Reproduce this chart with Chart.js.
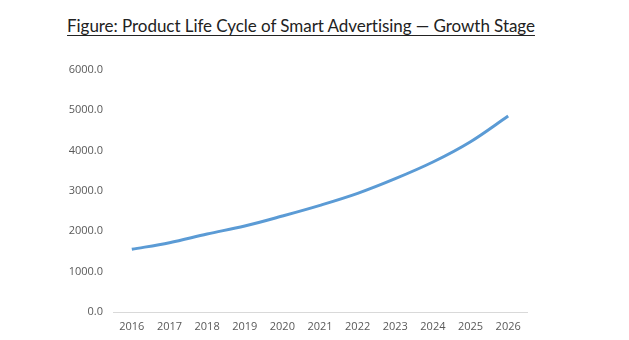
<!DOCTYPE html>
<html>
<head>
<meta charset="utf-8">
<script src="https://cdn.jsdelivr.net/npm/chart.js@4/dist/chart.umd.min.js"></script>
<style>
  html, body { margin: 0; padding: 0; background: #fff; }
  #wrap { position: relative; width: 629px; height: 340px; }
  #title {
    position: absolute; left: 0; top: 15px; width: 602px; text-align: center;
    font-family: Lato, "Open Sans", sans-serif; font-size: 17px; color: #222;
    text-decoration: underline; text-underline-offset: 3px; text-decoration-thickness: 1px;
    white-space: nowrap; letter-spacing: -0.05px;
  }
  canvas { position: absolute; left: 0; top: 0; }
</style>
</head>
<body>
<div id="wrap">
  <div id="title">Figure: Product Life Cycle of Smart Advertising — Growth Stage</div>
  <canvas id="c" width="629" height="340"></canvas>
</div>
<script>
const years = ["2016","2017","2018","2019","2020","2021","2022","2023","2024","2025","2026"];
const marketValues = [1555, 1718, 1934, 2132, 2380, 2645, 2942, 3306, 3719, 4223, 4860];
const yTicks = [0, 1000, 2000, 3000, 4000, 5000, 6000];

new Chart(document.getElementById('c'), {
  type: 'line',
  data: {
    labels: years,
    datasets: [{
      data: marketValues,
      borderColor: '#5B9BD5',
      borderWidth: 3,
      pointRadius: 0,
      tension: 0.35,
      fill: false
    }]
  },
  options: {
    responsive: false,
    animation: false,
    plugins: { legend: { display: false }, tooltip: { enabled: false }, title: { display: false } },
    layout: { padding: { top: 70, right: 102, bottom: 0, left: 0 } },
    scales: {
      x: {
        offset: true,
        grid: { display: false, drawTicks: false },
        border: { display: true, color: '#d9d9d9', width: 1 },
        ticks: { color: '#595959', font: { family: '"Open Sans", sans-serif', size: 11 }, padding: 8, maxRotation: 0 },
        afterFit: (s) => { s.height = 28; }
      },
      y: {
        min: 0, max: 6000,
        afterBuildTicks: (s) => { s.ticks = yTicks.map(v => ({ value: v })); },
        grid: { display: false, drawTicks: false },
        border: { display: false },
        ticks: { color: '#595959', font: { family: '"Open Sans", sans-serif', size: 11 }, padding: 10,
                 callback: (v) => Number(v).toFixed(1) },
        afterFit: (s) => { s.width = 113; }
      }
    }
  }
});
</script>
</body>
</html>
